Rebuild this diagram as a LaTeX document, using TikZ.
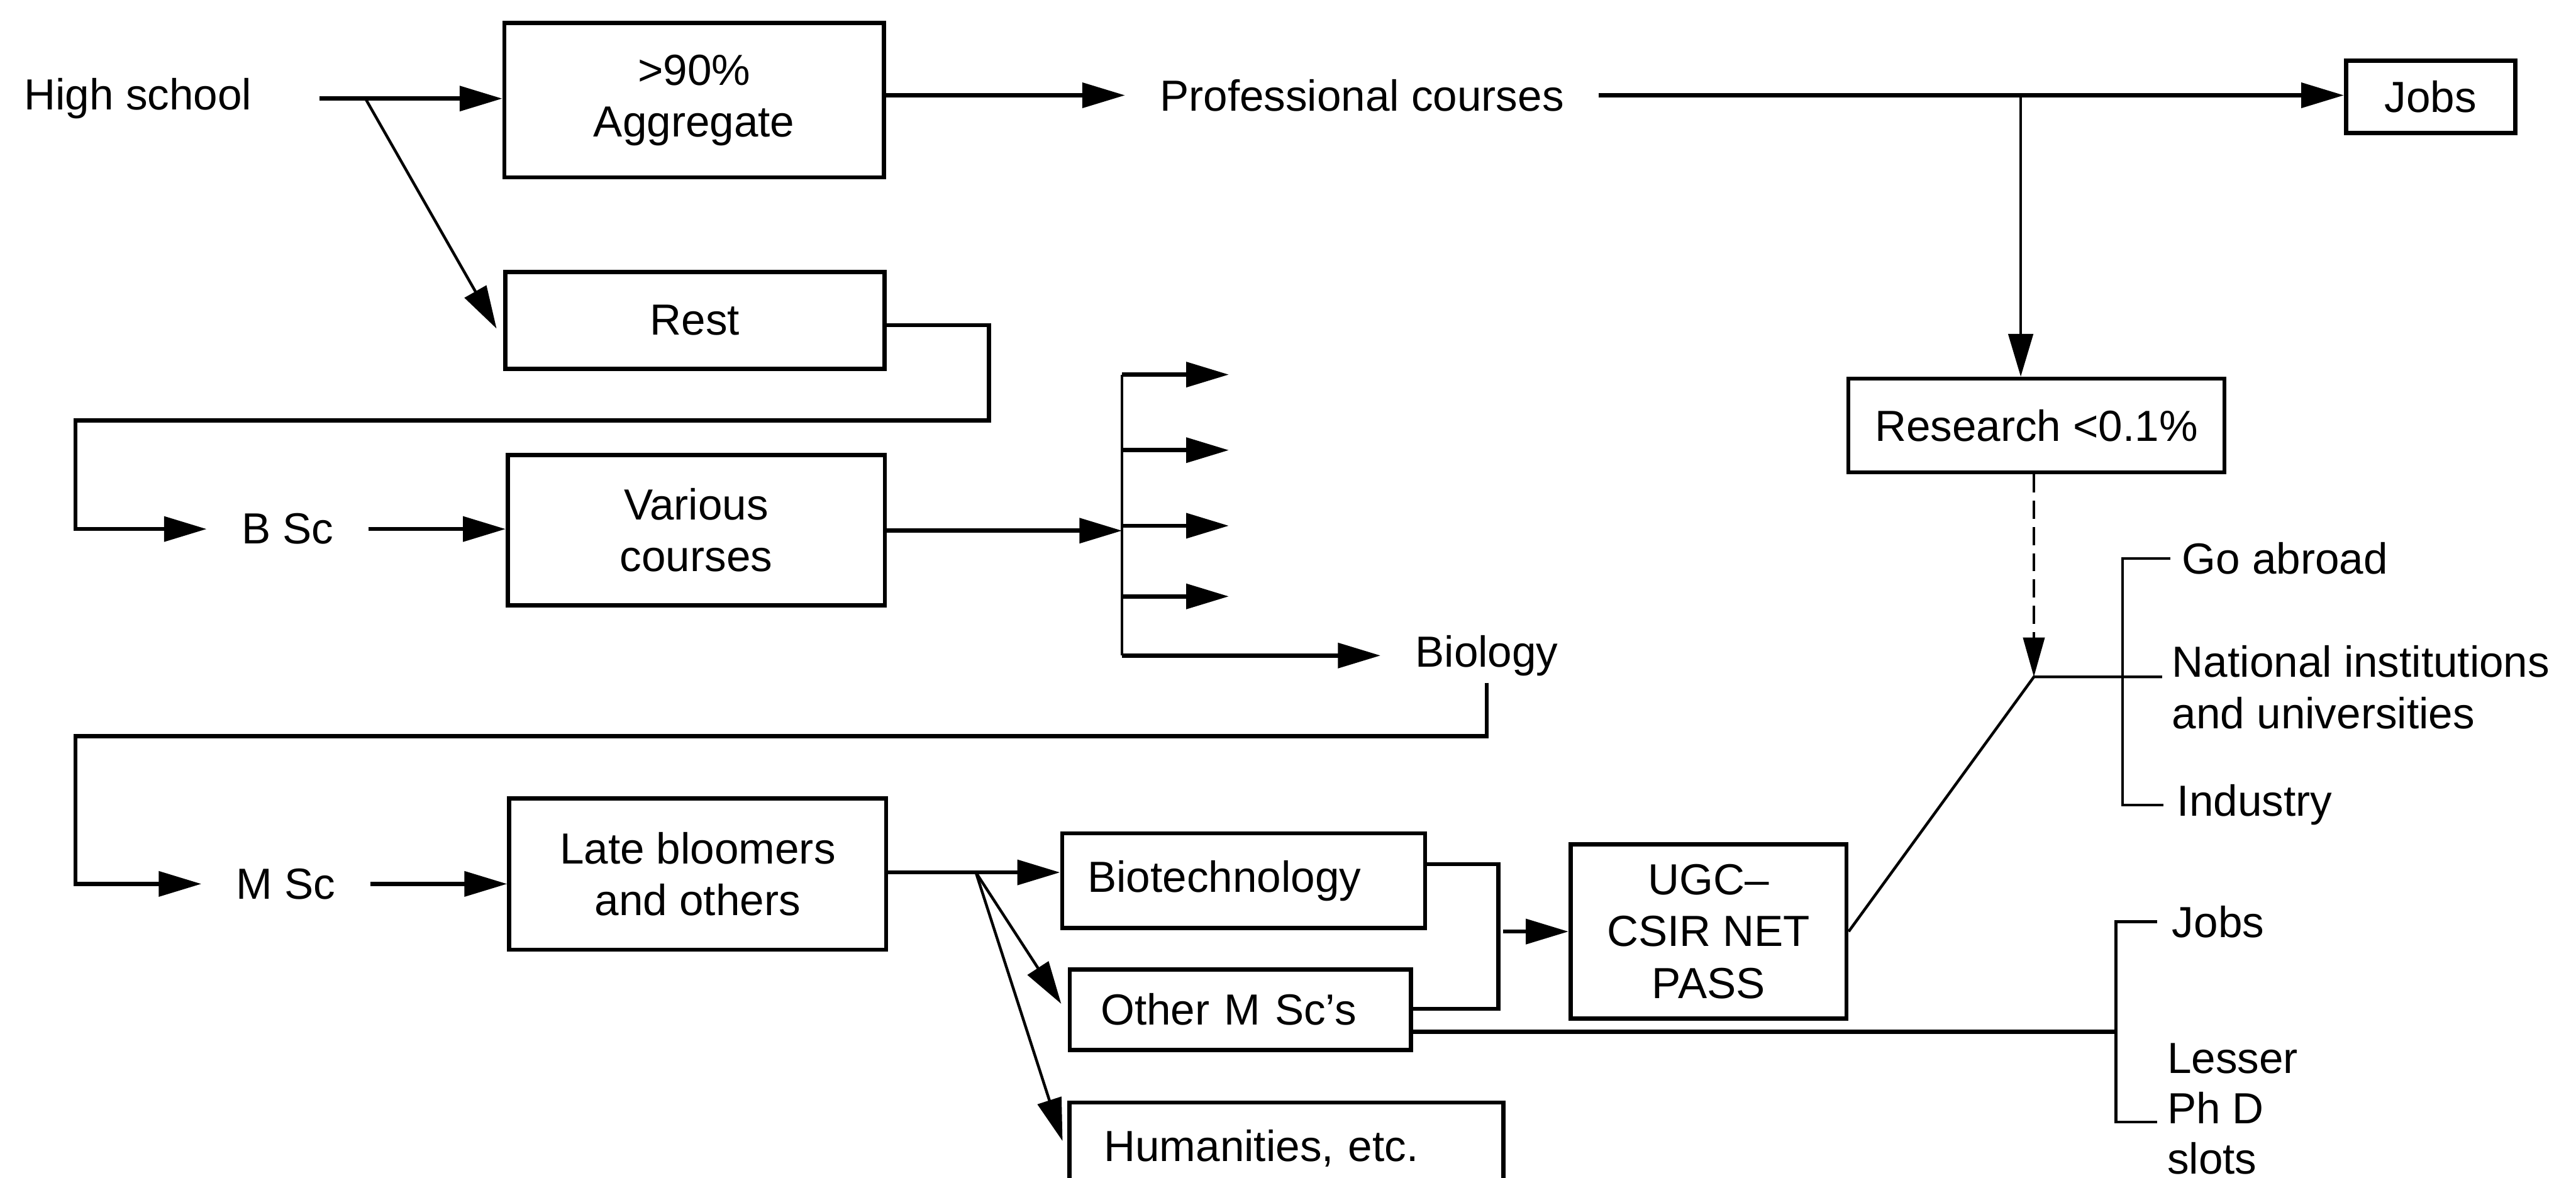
\documentclass[tikz,border=0pt]{standalone}
\usepackage{fontspec}
\setmainfont{Liberation Sans}
\usetikzlibrary{arrows.meta}
\begin{document}
\begin{tikzpicture}[x=1pt,y=-1pt,
  txt/.style={font=\fontsize{26.5}{31.5}\selectfont},
  box/.style={txt, draw, line width=2.5pt, inner sep=0pt, align=center},
  lbox/.style={box, align=left},
  lbl/.style={txt, inner xsep=21pt, inner ysep=0pt, align=center},
  rlbl/.style={txt, anchor=west, inner sep=0pt, align=left},
  thickln/.style={line width=2.5pt},
  thinln/.style={line width=1.7pt},
  arr/.style={-{Triangle[length=26pt,width=15pt]}},
  darr/.style={-{Triangle[length=24pt,width=13pt]}},
]
\useasboundingbox (0,0) rectangle (1568,717);

% nodes
\node[lbl, inner xsep=0pt] (hs) at (84,60) {High school};
\node[box, minimum width=231pt, minimum height=94pt] (agg) at (422.5,61) {>90\%\\Aggregate};
\node[box, minimum width=231pt, minimum height=59pt] (rest) at (423,195) {Rest};
\node[lbl] (prof) at (829,58) {Professional courses};
\node[box, minimum width=103pt, minimum height=44pt] (jobs) at (1479.5,59) {Jobs};
\node[box, minimum width=229pt, minimum height=57pt] (research) at (1239.5,259) {Research <0.1\%};
\node[lbl] (bsc) at (175,322) {B Sc};
\node[box, minimum width=229.5pt, minimum height=91.5pt] (various) at (423.8,322.7) {Various\\courses};
\node[lbl] (biology) at (905,399) {Biology};
\node[lbl] (msc) at (174,538) {M Sc};
\node[box, minimum width=229.5pt, minimum height=92pt] (late) at (424.7,532) {Late bloomers\\and others};
\node[lbox, minimum width=221pt, minimum height=57.5pt, text width=190pt] (bio) at (757,536) {Biotechnology};
\node[lbox, minimum width=207.6pt, minimum height=49pt, text width=170pt] (other) at (755,614.5) {Other M Sc's};
\node[lbox, minimum width=264pt, minimum height=56pt, text width=222pt] (hum) at (783,699) {Humanities, etc.};
\node[box, minimum width=168pt, minimum height=106pt] (ugc) at (1040,567) {UGC–\\CSIR NET\\PASS};

\node[rlbl] (goab) at (1328,340) {Go abroad};
\node[rlbl, anchor=north west] (natl) at (1322,392.5) {National institutions\\and universities};
\node[rlbl] (ind) at (1325,490) {Industry};
\node[rlbl] (jobs2) at (1322,561) {Jobs};
\node[rlbl, anchor=north west, font=\fontsize{26.5}{30.5}\selectfont] (lesser) at (1319,635) {Lesser\\Ph D\\slots};

% coordinates
\path ([xshift=69pt]hs.east) coordinate (hsb);
\coordinate (pb) at (1230,58);
\coordinate (rj) at (1238,412);
\coordinate (gv) at (1292,412);
\coordinate (lv) at (1288,628);
\coordinate (phd) at (1313,683);
\coordinate (bt) at (912,614);
\coordinate (bm) at (915,567);
\coordinate (r1) at (602,256);
\coordinate (r2) at (46,256);
\coordinate (vb) at (683,323);
\coordinate (f1) at (683,228);
\coordinate (f5) at (683,399);
\coordinate (b1) at (905,448);
\coordinate (b2) at (46,448);
\coordinate (lb) at (594,531);

% top
\draw[thickln, arr] ([xshift=41pt]hs.east) -- (hs.east -| agg.west);
\draw[thinln, arr] (hsb) -- ([xshift=-4pt,yshift=-5pt]rest.west);
\draw[thickln, arr] (prof.west -| agg.east) -- (prof.west);
\draw[thickln, arr] (prof.east) -- (prof.east -| jobs.west);
\draw[thinln, arr] (pb) -- (pb |- research.north);
\draw[thinln, dash pattern=on 11pt off 5pt, darr] (research.south -| rj) -- (rj);
\draw[thinln] (ugc.east) -- (rj) -- ([xshift=-6pt]natl.west |- rj);
\draw[thinln] ([xshift=-7pt]goab.west) -| (gv) |- ([xshift=-8pt]ind.west);

% left loops
\draw[thickln, arr] ([yshift=-3pt]rest.east) -| (r1) -- (r2) |- (bsc.west);
\draw[thickln, arr] (bsc.east) -- (bsc.east -| various.west);
\draw[thickln, arr] (various.east |- vb) -- (vb);
\draw[thinln] (f1) -- (f5);
\foreach \n/\y in {a/228,b/274,c/320,d/363} {
  \coordinate (f\n) at (748,\y);
  \draw[thickln, arr] (f1 |- f\n) -- (f\n);
}
\draw[thickln, arr] (f5) -- (biology.west);
\draw[thickln, arr] ([yshift=-4pt]biology.south) -- (b1) -- (b2) |- (msc.west);
\draw[thickln, arr] (msc.east) -- (msc.east -| late.west);

% M Sc branches
\draw[thickln] (late.east |- lb) -- (lb);
\draw[thickln, arr] (lb) -- (lb -| bio.west);
\draw[thinln, arr] (lb) -- ([xshift=-4pt,yshift=3.5pt]other.west);
\draw[thinln, arr] (lb) -- ([xshift=-3pt,yshift=4.5pt]hum.west);
\draw[thickln] ([yshift=10pt]bio.east) -| (bt) -- (bt -| other.east);
\draw[thickln, arr] (bm) -- (ugc.west);

% lower right
\draw[thinln] ([xshift=-9pt]jobs2.west) -| (lv) |- (phd);
\draw[thickln] (other.east |- lv) -- (lv);
\end{tikzpicture}
\end{document}
